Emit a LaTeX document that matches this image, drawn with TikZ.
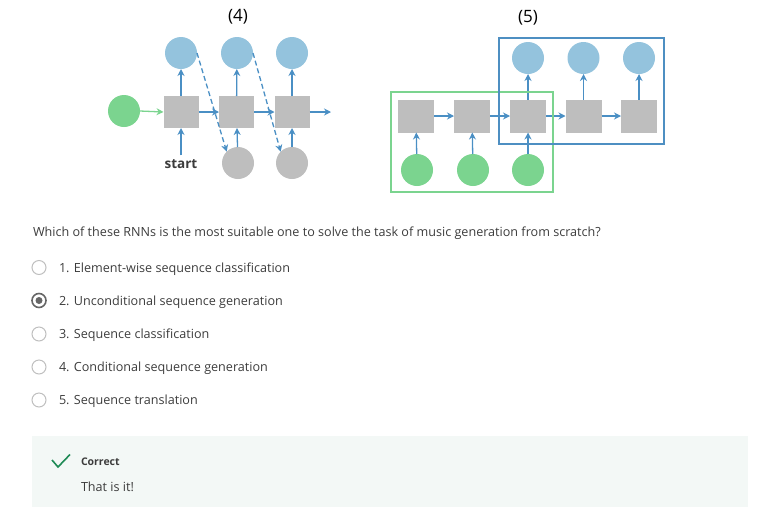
\documentclass[tikz,border=0pt]{standalone}
\usepackage{fontspec}
\setmainfont{Open Sans}
\usetikzlibrary{arrows.meta, positioning, calc}
\definecolor{rnnblue}{HTML}{94C3DD}
\definecolor{rnngreen}{HTML}{7BD48F}
\definecolor{rnngray}{HTML}{BEBEBE}
\definecolor{arrblue}{HTML}{4A8FC4}
\definecolor{boxblue}{HTML}{4E8FC2}
\definecolor{txtgray}{HTML}{3C3C3C}
\definecolor{fbgreen}{HTML}{F3F8F6}
\definecolor{okgreen}{HTML}{1E8A55}
\begin{document}
\begin{tikzpicture}[x=1pt, y=-1pt, >={Stealth[length=7pt, width=7pt]}]
\tikzset{every node/.style={inner sep=0pt, outer sep=0pt},
  hid/.style={rectangle, fill=rnngray, minimum width=35pt, minimum height=32pt},
  outc/.style={circle, fill=rnnblue, minimum size=32pt},
  inc/.style={circle, fill=rnngreen, minimum size=32pt},
  grayc/.style={circle, fill=rnngray, minimum size=32pt},
  title/.style={font=\fontsize{17}{20}\selectfont, text=black},
  arr/.style={arrblue, line width=1.3pt, ->},
  qtext/.style={font=\fontsize{12.6}{15}\selectfont, text=txtgray, anchor=west},
  radio/.style={circle, draw=black!25, line width=1pt, minimum size=14pt},
  radioon/.style={circle, draw=black!60, line width=1.6pt, minimum size=14pt}}
\useasboundingbox (0,0) rectangle (778,517);

% (4) generation with feedback
\node [title] (T4) at (238,17) {(4)};
\node [hid] (A1) at (181,112) {};
\node [hid] (A2) at (236.5,112) {};
\node [hid] (A3) at (292,112) {};
\node [outc] (Y1) at (181,53) {};
\node [outc] (Y2) at (237,53) {};
\node [outc] (Y3) at (292,53) {};
\node [inc] (X0) at (124,111) {};
\node [grayc] (G2) at (238,163) {};
\node [grayc] (G3) at (292,163) {};
\node [font=\bfseries\fontsize{13.5}{15}\selectfont, text=txtgray] (S) at (181,164) {start};
\coordinate (E4) at (331,112);

\draw [rnngreen, line width=1.3pt, ->] (X0.east) to (A1.west);
\draw [arr] (A1) to (A2);
\draw [arr] (A2) to (A3);
\draw [arr] (A3) to (E4);
\draw [arr] (A1) to (Y1);
\draw [arr] (A2) to (Y2);
\draw [arr] (A3) to (Y3);
\draw [arr, shorten <=4pt] (S.north) to (A1.south);
\draw [arr] (G2) to (A2);
\draw [arr] (G3) to (A3);
\draw [arr, dashed, dash pattern=on 5pt off 3pt] (Y1.east) to (G2.north west);
\draw [arr, dashed, dash pattern=on 5pt off 3pt] (Y2.east) to (G3.north west);

% (5) sequence translation
\node [title] (T5) at (528,18) {(5)};
\node [hid, minimum width=36pt, minimum height=33pt] (B1) at (416,116) {};
\node [hid, minimum width=36pt, minimum height=33pt] (B2) at (472,116) {};
\node [hid, minimum width=36pt, minimum height=33pt] (B3) at (528,116) {};
\node [hid, minimum width=36pt, minimum height=33pt] (B4) at (583.5,116) {};
\node [hid, minimum width=36pt, minimum height=33pt] (B5) at (639,116) {};
\node [outc] (Z3) at (528,58) {};
\node [outc] (Z4) at (583.5,58) {};
\node [outc] (Z5) at (639,58) {};
\node [inc] (W1) at (417,170) {};
\node [inc] (W2) at (473,170) {};
\node [inc] (W3) at (528,170) {};

\draw [arr] (B1) to (B2);
\draw [arr] (B2) to (B3);
\draw [arr] (B3) to (B4);
\draw [arr] (B4) to (B5);
\draw [arr] (W1) to (B1);
\draw [arr] (W2) to (B2);
\draw [arr] (W3) to (B3);
\draw [arr] (B3) to (Z3);
\draw [arr] (B4) to (Z4);
\draw [arr] (B5) to (Z5);

\node [draw=rnngreen, line width=2pt, minimum width=162pt, minimum height=100pt, anchor=north west] (GB) at (391,92) {};
\node [draw=boxblue, line width=2pt, minimum width=165pt, minimum height=106pt, anchor=north west] (BB) at (499,38) {};

% question and options
\node [qtext] (Q) at (33,233.5) {Which of these RNNs is the most suitable one to solve the task of music generation from scratch?};
\node [radio] (R1) at (39,267.5) {};
\node [radioon] (R2) at (39,300.5) {};
\node [circle, fill=black!60, minimum size=7pt] (R2d) at (R2) {};
\node [radio] (R3) at (39,334) {};
\node [radio] (R4) at (39,367) {};
\node [radio] (R5) at (39,400) {};
\node [qtext] (O1) at (59,269) {1. Element-wise sequence classification};
\node [qtext] (O2) at (59,302) {2. Unconditional sequence generation};
\node [qtext] (O3) at (59,335.5) {3. Sequence classification};
\node [qtext] (O4) at (59,368.5) {4. Conditional sequence generation};
\node [qtext] (O5) at (59,401.5) {5. Sequence translation};

% feedback
\node [fill=fbgreen, minimum width=716pt, minimum height=71pt, anchor=north west] (FB) at (32,436) {};
\draw [okgreen, line width=1.6pt] (52,460) -- (58,467) -- (70,454.5);
\node [font=\bfseries\fontsize{10.5}{12}\selectfont, text=txtgray, anchor=west] (C) at (81,462) {Correct};
\node [qtext] (C2) at (81,486.5) {That is it!};
\end{tikzpicture}
\end{document}
